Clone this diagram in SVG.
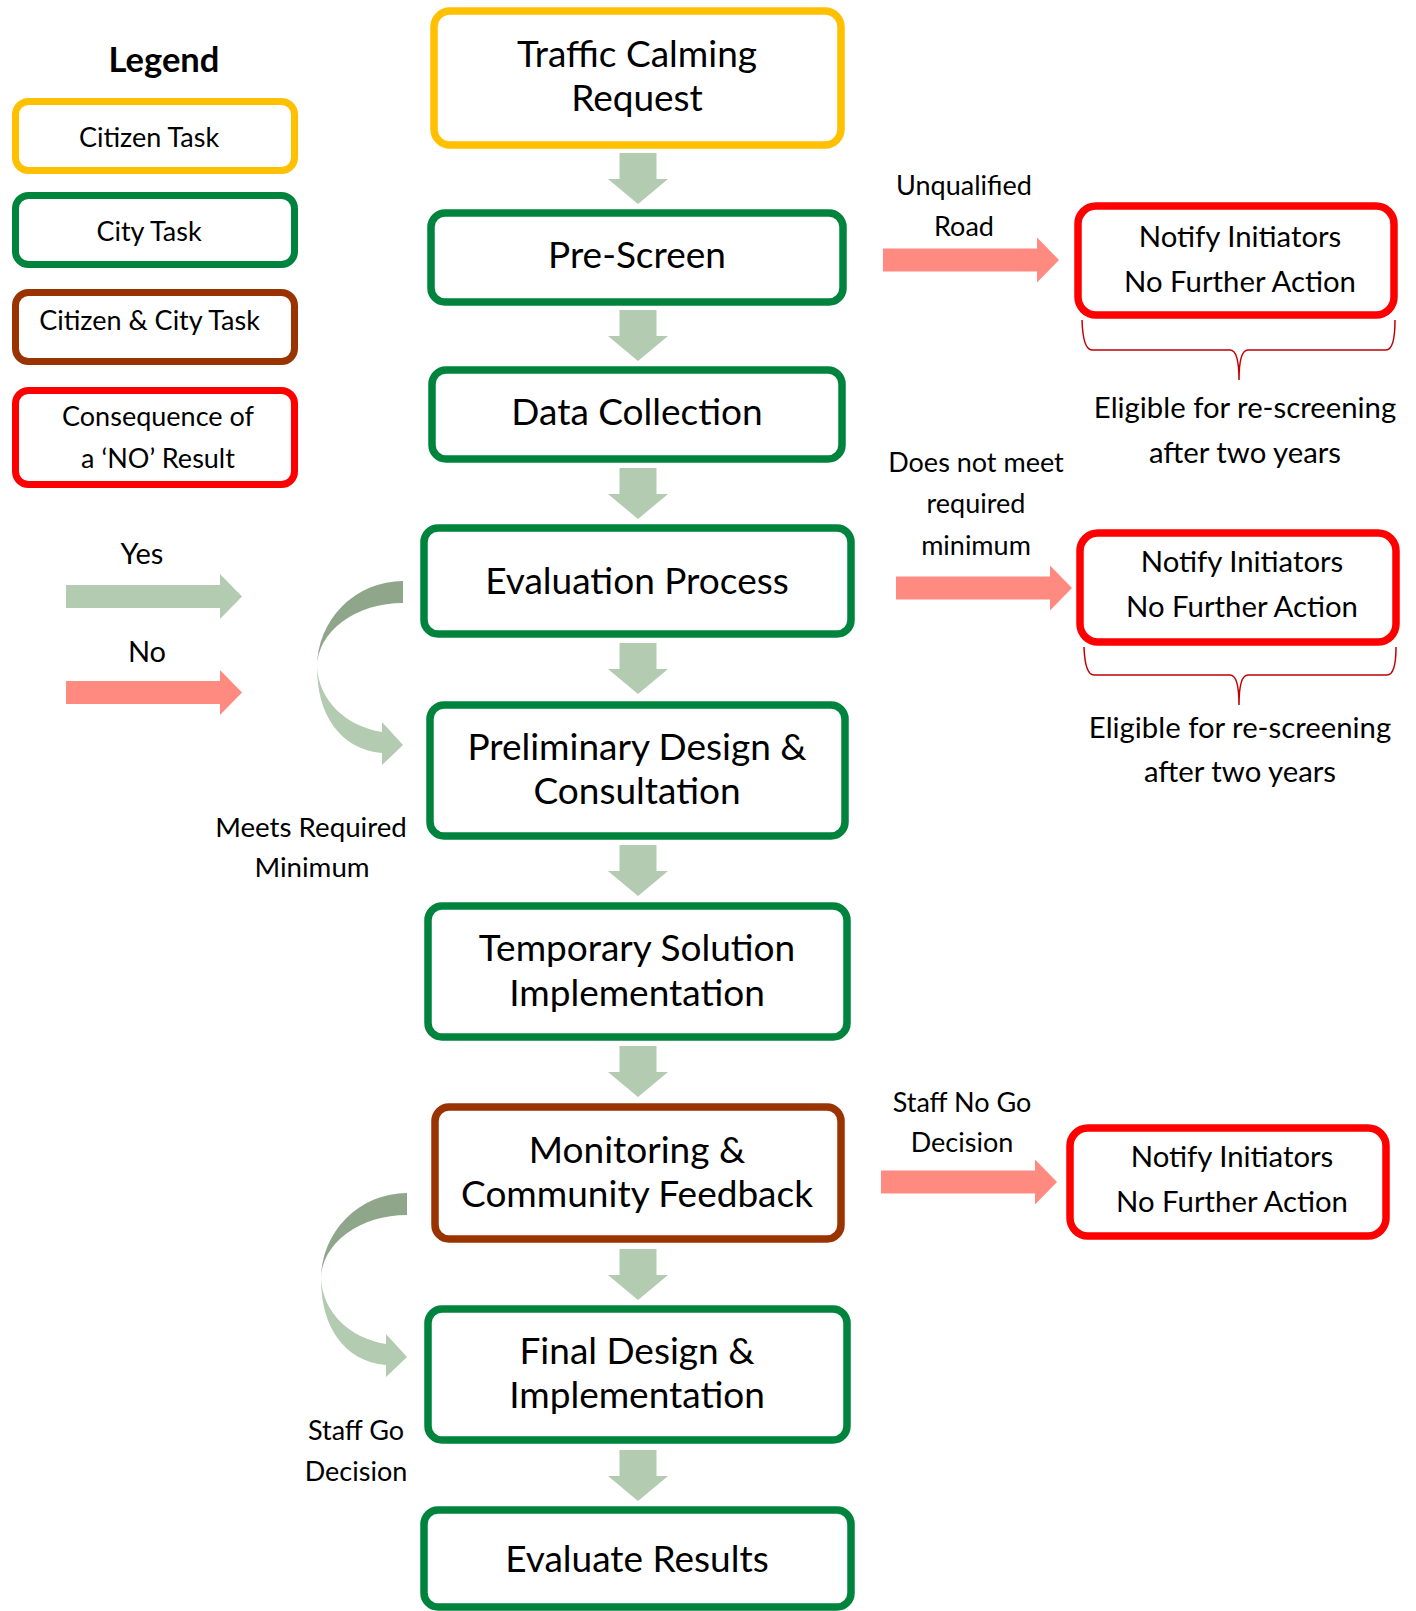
<svg xmlns="http://www.w3.org/2000/svg" xmlns:xlink="http://www.w3.org/1999/xlink" width="1416" height="1611" viewBox="0 0 1416 1611">
<style>
.box{fill:#fff;stroke-width:7.5}
.yellow{stroke:#FFC000}
.green{stroke:#00843D}
.brown{stroke:#993300}
.red{stroke:#FF0000}
.t{font-family:Lato,"Open Sans","Liberation Sans",sans-serif;fill:#000;text-anchor:middle}
.big{font-size:37px}
.mid{font-size:27px}
.nb{font-size:29.3px}
.sm{font-size:27px}
.ga{fill:#B3CBB0}
.ra{fill:#FF8A80}
.brace{fill:none;stroke:#C00000;stroke-width:1.5}
</style>
<defs>
<path id="down" d="M-18.5,0 H18.5 V26 H30 L0,51 L-30,26 H-18.5 Z"/>
<path id="right" d="M0,-11.5 H154 V-22.5 L176,0 L154,22.5 V11.5 H0 Z"/>
<g id="curve">
<path d="M403,581 A86,86 0 0 0 317,667 A86,64 0 0 1 403,603 Z" fill="#8FA68B"/>
<path d="M317,667 C319,700 345,726 382,732 L382,722 L403,745 L382,765 L382,753 C340,749 317,715 317,667 Z" fill="#B3CBB0"/>
</g>
</defs>
<rect width="1416" height="1611" fill="#fff"/>

<g id="legend">
<text class="t" x="164" y="72" style="font-size:34.5px;font-weight:bold">Legend</text>
<g id="legend-citizen"><rect class="box yellow" x="15.5" y="101.5" width="279" height="69" rx="13" style="stroke-width:7"/><text class="t sm" x="149" y="147">Citizen Task</text></g>
<g id="legend-city"><rect class="box green" x="15.5" y="195.5" width="279" height="69" rx="13" style="stroke-width:7"/><text class="t sm" x="149" y="241">City Task</text></g>
<g id="legend-both"><rect class="box brown" x="15.5" y="292.5" width="279" height="69" rx="13" style="stroke-width:7"/><text class="t sm" x="149.5" y="330">Citizen &amp; City Task</text></g>
<g id="legend-no"><rect class="box red" x="15.5" y="390.5" width="279" height="94" rx="13" style="stroke-width:7"/><text class="t sm" x="158" y="426">Consequence of</text><text class="t sm" x="158" y="468">a ‘NO’ Result</text></g>
<g id="legend-yes-arrow"><text class="t" x="142" y="564" style="font-size:29px">Yes</text><use href="#right" xlink:href="#right" class="ga" transform="translate(66,596.5)"/></g>
<g id="legend-no-arrow"><text class="t" x="147" y="662" style="font-size:29px">No</text><use href="#right" xlink:href="#right" class="ra" transform="translate(66,692.5)"/></g>
</g>

<g id="n-request"><rect class="box yellow" x="434" y="11" width="407" height="134" rx="16"/><text class="t big" x="637" y="67">Traffic Calming</text><text class="t big" x="637" y="111">Request</text></g>
<g id="n-prescreen"><rect class="box green" x="431" y="213" width="412" height="89" rx="14"/><text class="t big" x="637" y="268">Pre-Screen</text></g>
<g id="n-data"><rect class="box green" x="432" y="370" width="410" height="89" rx="14"/><text class="t big" x="637" y="425">Data Collection</text></g>
<g id="n-eval"><rect class="box green" x="424" y="528" width="427" height="106" rx="14"/><text class="t big" x="637" y="594">Evaluation Process</text></g>
<g id="n-prelim"><rect class="box green" x="430" y="705" width="415" height="131" rx="14"/><text class="t big" x="637" y="760">Preliminary Design &amp;</text><text class="t big" x="637" y="804">Consultation</text></g>
<g id="n-temp"><rect class="box green" x="428" y="906" width="419" height="131" rx="14"/><text class="t big" x="637" y="961">Temporary Solution</text><text class="t big" x="637" y="1006">Implementation</text></g>
<g id="n-monitor"><rect class="box brown" x="435" y="1107" width="406" height="132" rx="14"/><text class="t big" x="637" y="1163">Monitoring &amp;</text><text class="t big" x="637" y="1207">Community Feedback</text></g>
<g id="n-final"><rect class="box green" x="428" y="1309" width="419" height="131" rx="14"/><text class="t big" x="637" y="1364">Final Design &amp;</text><text class="t big" x="637" y="1408">Implementation</text></g>
<g id="n-results"><rect class="box green" x="424" y="1510" width="427" height="97" rx="14"/><text class="t big" x="637" y="1572">Evaluate Results</text></g>

<g id="n-notify1"><rect class="box red" x="1078" y="206" width="316" height="109" rx="18"/><text class="t nb" x="1240" y="247">Notify Initiators</text><text class="t nb" x="1240" y="292">No Further Action</text></g>
<g id="n-notify2"><rect class="box red" x="1080" y="533" width="316" height="109" rx="18"/><text class="t nb" x="1242" y="572">Notify Initiators</text><text class="t nb" x="1242" y="617">No Further Action</text></g>
<g id="n-notify3"><rect class="box red" x="1070" y="1128" width="316" height="108" rx="18"/><text class="t nb" x="1232" y="1167">Notify Initiators</text><text class="t nb" x="1232" y="1212">No Further Action</text></g>

<g id="notes">
<path class="brace" d="M1082,320 Q1083,350 1092,350 L1230,350 Q1239,350 1239,380 Q1239,350 1248,350 L1386,350 Q1395,350 1395,320"/>
<text class="t nb" x="1245" y="418">Eligible for re-screening</text>
<text class="t nb" x="1245" y="463">after two years</text>
<path class="brace" d="M1084,647 Q1085,675 1094,675 L1230,675 Q1239,675 1239,705 Q1239,675 1248,675 L1387,675 Q1396,675 1396,647"/>
<text class="t nb" x="1240" y="738">Eligible for re-screening</text>
<text class="t nb" x="1240" y="782">after two years</text>
</g>

<g id="connectors">
<use href="#down" xlink:href="#down" class="ga" transform="translate(638,153)"/>
<use href="#down" xlink:href="#down" class="ga" transform="translate(638,310)"/>
<use href="#down" xlink:href="#down" class="ga" transform="translate(638,468)"/>
<use href="#down" xlink:href="#down" class="ga" transform="translate(638,643)"/>
<use href="#down" xlink:href="#down" class="ga" transform="translate(638,845)"/>
<use href="#down" xlink:href="#down" class="ga" transform="translate(638,1046)"/>
<use href="#down" xlink:href="#down" class="ga" transform="translate(638,1249)"/>
<use href="#down" xlink:href="#down" class="ga" transform="translate(638,1450)"/>
<use href="#right" xlink:href="#right" class="ra" transform="translate(883,260)"/>
<use href="#right" xlink:href="#right" class="ra" transform="translate(896,588)"/>
<use href="#right" xlink:href="#right" class="ra" transform="translate(881,1182)"/>
<use href="#curve" xlink:href="#curve"/>
<use href="#curve" xlink:href="#curve" transform="translate(4,612)"/>
<text class="t mid" x="964" y="195">Unqualified</text>
<text class="t mid" x="964" y="236">Road</text>
<text class="t mid" x="976" y="472">Does not meet</text>
<text class="t mid" x="976" y="513">required</text>
<text class="t mid" x="976" y="555">minimum</text>
<text class="t mid" x="962" y="1112">Staff No Go</text>
<text class="t mid" x="962" y="1152">Decision</text>
<text class="t" x="311" y="837" style="font-size:27.7px">Meets Required</text>
<text class="t" x="312" y="877" style="font-size:27.7px">Minimum</text>
<text class="t mid" x="356" y="1440">Staff Go</text>
<text class="t mid" x="356" y="1481">Decision</text>
</g>
</svg>
